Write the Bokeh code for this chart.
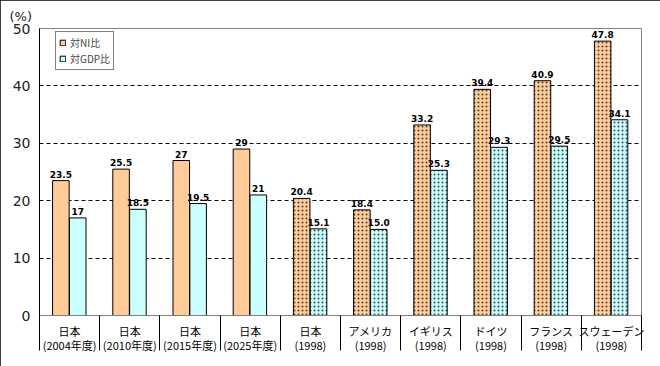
from bokeh.plotting import figure
from bokeh.models import (Range1d, FixedTicker, ColumnDataSource,
                          Legend, LegendItem, Title)
from bokeh.core.properties import value
from bokeh.embed import file_html
from bokeh.resources import INLINE

cat_top = ["日本", "日本", "日本", "日本", "日本", "アメリカ", "イギリス", "ドイツ", "フランス", "スウェーデン"]
cat_bottom = ["(2004年度)", "(2010年度)", "(2015年度)", "(2025年度)", "(1998)", "(1998)",
              "(1998)", "(1998)", "(1998)", "(1998)"]
ni_values = [23.5, 25.5, 27, 29, 20.4, 18.4, 33.2, 39.4, 40.9, 47.8]
gdp_values = [17, 18.5, 19.5, 21, 15.1, 15.0, 25.3, 29.3, 29.5, 34.1]
ni_labels = ["23.5", "25.5", "27", "29", "20.4", "18.4", "33.2", "39.4", "40.9", "47.8"]
gdp_labels = ["17", "18.5", "19.5", "21", "15.1", "15.0", "25.3", "29.3", "29.5", "34.1"]
patterned = [False, False, False, False, True, True, True, True, True, True]
y_ticks = [0, 10, 20, 30, 40, 50]
series_names = ["対NI比", "対GDP比"]

n = len(cat_top)
centers = [i + 0.5 for i in range(n)]
hatch = ["dot" if f else " " for f in patterned]

W, H = 660, 366
p = figure(width=W, height=H, output_backend="svg", toolbar_location=None,
           x_range=Range1d(0, n), y_range=Range1d(0, 50),
           min_border_left=39, min_border_right=19, min_border_top=28, min_border_bottom=51)
p.outline_line_color = "#808080"
p.outline_line_width = 1
p.background_fill_color = "white"
p.border_fill_color = "white"
p.styles = {"outline": "2px solid black", "outline-offset": "-2px"}

src_ni = ColumnDataSource(dict(x=[c - 0.145 for c in centers], top=ni_values, lab=ni_labels, hatch=hatch))
src_gdp = ColumnDataSource(dict(x=[c + 0.135 for c in centers], top=gdp_values, lab=gdp_labels, hatch=hatch))

r_ni = p.vbar(x="x", top="top", width=0.275, source=src_ni, fill_color="#FFCC99",
              line_color="black", line_width=1, hatch_pattern="hatch", hatch_color="black",
              hatch_scale=4, hatch_weight=1, hatch_alpha=0.7)
r_gdp = p.vbar(x="x", top="top", width=0.275, source=src_gdp, fill_color="#CCFFFF",
               line_color="black", line_width=1, hatch_pattern="hatch", hatch_color="black",
               hatch_scale=4, hatch_weight=1, hatch_alpha=0.7)

for src in (src_ni, src_gdp):
    p.text(x="x", y="top", text="lab", source=src, text_align="center",
           text_baseline="bottom", y_offset=-3, text_font_size="9px",
           text_font_style="bold", text_font=value("DejaVu Sans"),
           text_color="black")

# grid
p.xgrid.visible = False
p.ygrid.ticker = FixedTicker(ticks=[10, 20, 30, 40])
p.ygrid.grid_line_color = "black"
p.ygrid.grid_line_dash = "4 3"
p.ygrid.grid_line_width = 1

# y axis
p.yaxis.ticker = FixedTicker(ticks=y_ticks)
p.yaxis.axis_line_color = "black"
p.yaxis.major_tick_out = 0
p.yaxis.major_tick_in = 0
p.yaxis.minor_tick_out = 0
p.yaxis.minor_tick_in = 0
p.yaxis.major_label_standoff = 9
p.yaxis.major_label_text_font_size = "14px"
p.yaxis.major_label_text_font = "DejaVu Sans"
p.yaxis.major_label_text_color = "#222222"

# x axis: labels at centres, category boundaries as long minor ticks
p.xaxis.ticker = FixedTicker(ticks=centers, minor_ticks=list(range(n + 1)))
p.xaxis.axis_line_color = "#808080"
p.xaxis.major_tick_line_color = None
p.xaxis.major_tick_out = 0
p.xaxis.major_tick_in = 0
p.xaxis.minor_tick_line_color = "black"
p.xaxis.minor_tick_out = 35
p.xaxis.minor_tick_in = 0
p.xaxis.major_label_overrides = {centers[i]: cat_top[i] + "\n" + cat_bottom[i] for i in range(n)}
p.xaxis.major_label_text_font_size = "11px"
p.xaxis.major_label_text_font = "Noto Sans CJK JP"
p.xaxis.major_label_text_color = "black"
p.xaxis.major_label_standoff = -28
p.xaxis.major_label_text_line_height = 0.92

p.add_layout(Title(text="(%)", align="left", offset=-30, text_font_size="13px",
                   text_font="DejaVu Sans", text_font_style="normal",
                   text_color="#222222", standoff=10), "above")

legend = Legend(items=[LegendItem(label=series_names[0], renderers=[r_ni]),
                       LegendItem(label=series_names[1], renderers=[r_gdp])],
                location=(16, 245), glyph_width=7, glyph_height=7,
                label_text_font_size="10px", label_text_font="Noto Sans CJK JP",
                border_line_color="black", border_line_width=1,
                padding=3, spacing=1, label_standoff=4, margin=0,
                label_height=14, background_fill_alpha=1)
p.add_layout(legend)

open("out.html", "w").write(file_html(p, INLINE))
